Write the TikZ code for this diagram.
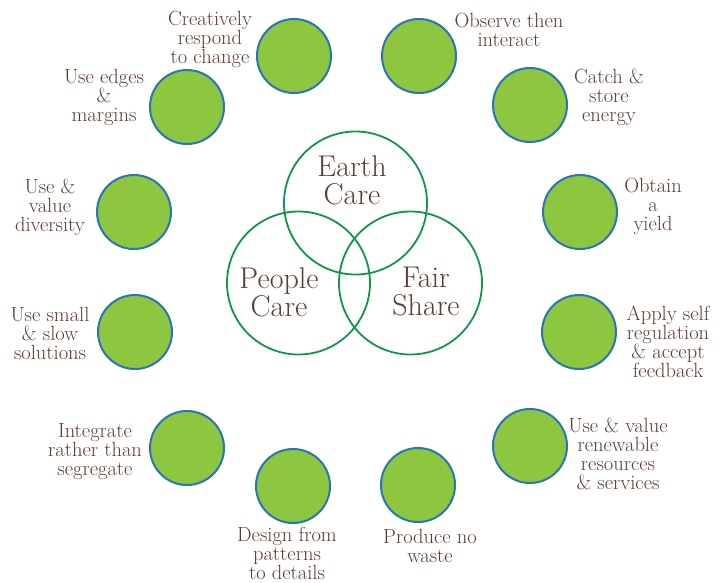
\documentclass[tikz,border=0pt]{standalone}
\usepackage{fontspec}
\setmainfont{Latin Modern Roman}
\definecolor{leaf}{HTML}{8DC63F}
\definecolor{rim}{HTML}{2B74B9}
\definecolor{venn}{HTML}{10964A}
\definecolor{bark}{HTML}{5A3D2E}
\begin{document}
\begin{tikzpicture}[x=1pt,y=-1pt,
    dot/.style={draw=rim, fill=leaf, circle, line width=2pt, minimum size=74pt, inner sep=0pt},
    ring/.style={draw=venn, circle, line width=1.8pt, minimum size=143pt, inner sep=0pt},
    txt/.style={text=bark, align=center, inner sep=0pt, font=\fontsize{20.5}{19}\selectfont},
    big/.style={text=bark, align=center, inner sep=0pt, font=\fontsize{30}{28}\selectfont}]
    \useasboundingbox (0,0) rectangle (719,582);

    \node[ring] (earth) at (355.5,203) {};
    \node[ring] (people) at (298.5,283) {};
    \node[ring] (fair) at (410.5,283) {};
    \node[big] (earthtxt) at (352,180) {Earth\\Care};
    \node[big] (peopletxt) at (279,292) {People\\Care};
    \node[big] (fairtxt) at (426,292) {Fair\\Share};

    \node[dot] (creative) at (294,56) {};
    \node[dot] (edges) at (187,107) {};
    \node[dot] (diversity) at (134,212) {};
    \node[dot] (slow) at (135,332) {};
    \node[dot] (integrate) at (187,448) {};
    \node[dot] (design) at (293,486) {};
    \node[dot] (waste) at (418,485) {};
    \node[dot] (renew) at (530,446) {};
    \node[dot] (regulate) at (579,332) {};
    \node[dot] (yield) at (580,212) {};
    \node[dot] (energy) at (530,105) {};
    \node[dot] (observe) at (419,56) {};

    \node[txt] (creativetxt) at (210,39) {Creatively\\respond\\to change};
    \node[txt] (edgestxt) at (104,97) {Use edges\\\&\\margins};
    \node[txt] (diversitytxt) at (50,207) {Use \&\\value\\diversity};
    \node[txt] (slowtxt) at (50,333) {Use small\\\& slow\\solutions};
    \node[txt] (integratetxt) at (95,452) {Integrate\\rather than\\segregate};
    \node[txt] (designtxt) at (287,553) {Design from\\patterns\\to details};
    \node[txt] (wastetxt) at (430,546) {Produce no\\waste};
    \node[txt] (renewtxt) at (618,454) {Use \& value\\renewable\\resources\\\& services};
    \node[txt] (regulatetxt) at (668,342) {Apply self\\regulation\\\& accept\\feedback};
    \node[txt] (yieldtxt) at (653,206) {Obtain\\a\\yield};
    \node[txt] (energytxt) at (609,97) {Catch \&\\store\\energy};
    \node[txt] (observetxt) at (509,30) {Observe then\\interact};
\end{tikzpicture}
\end{document}
